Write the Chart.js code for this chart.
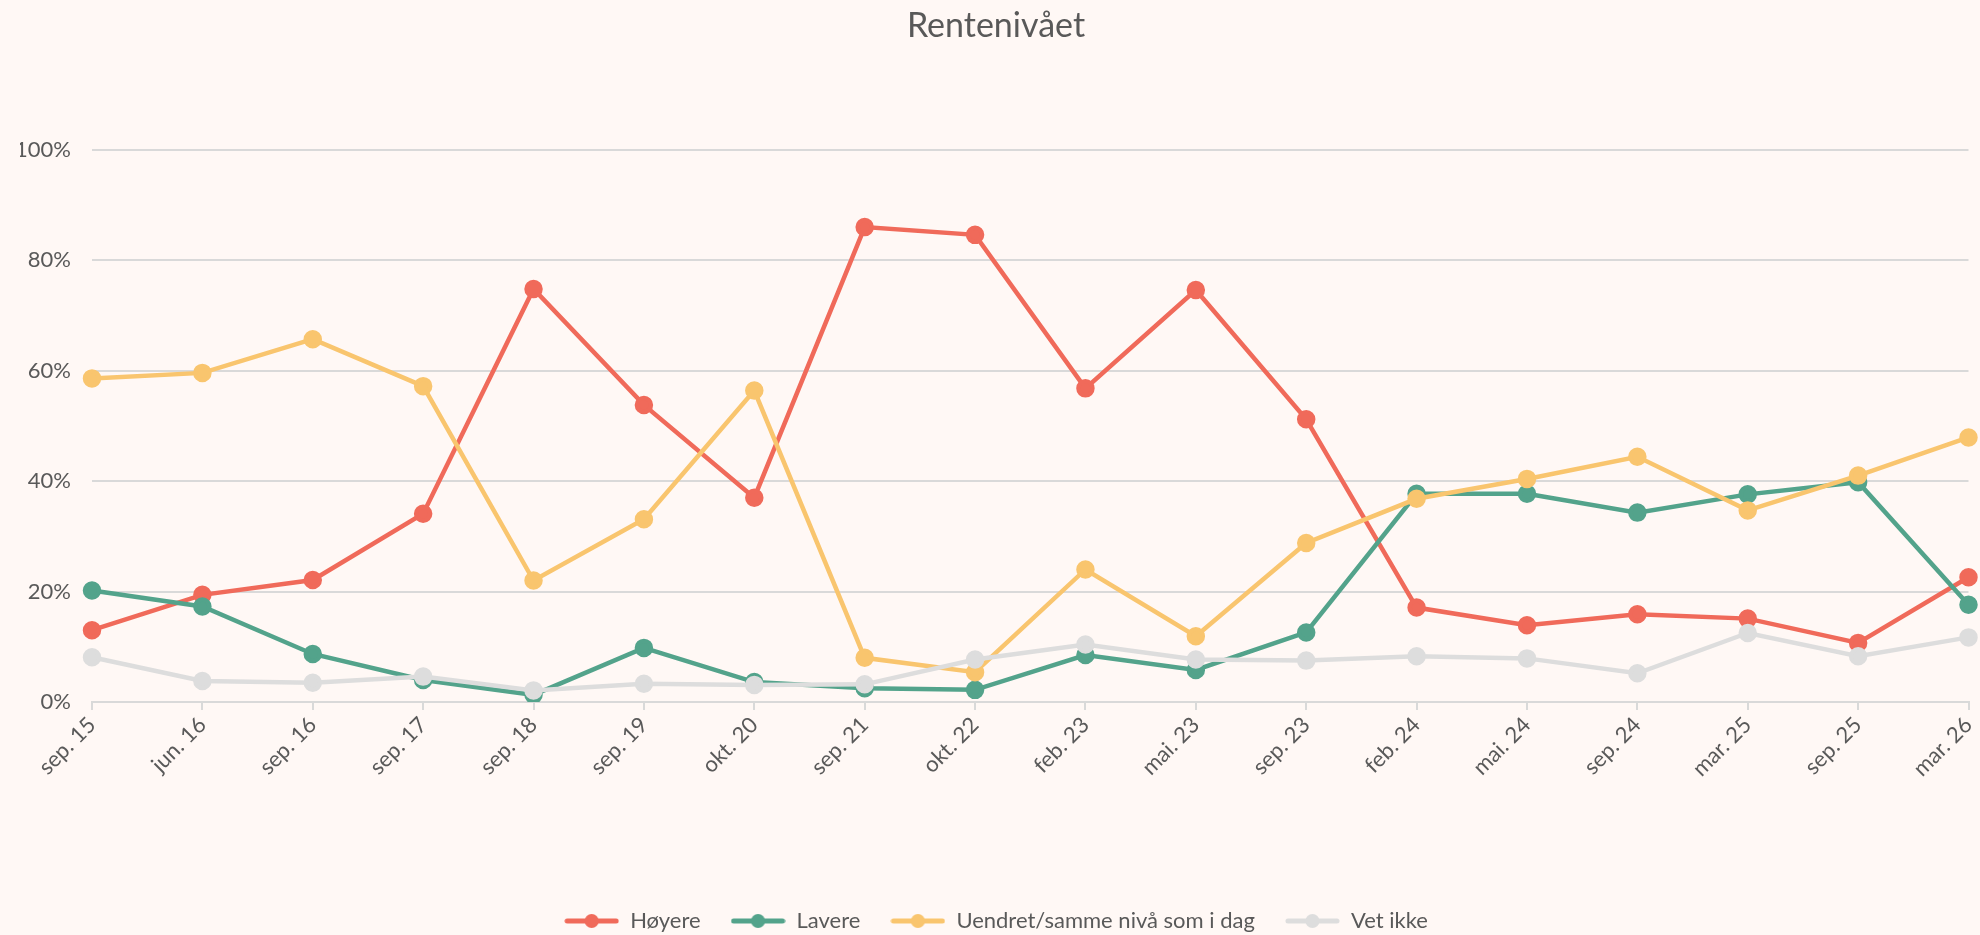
<!DOCTYPE html>
<html>
<head>
<meta charset="utf-8">
<script src="https://cdn.jsdelivr.net/npm/chart.js@4/dist/chart.umd.min.js"></script>
<style>
  html, body { margin: 0; padding: 0; background: #FFF8F5; }
  #wrap { width: 1980px; height: 935px; }
</style>
</head>
<body>
<div id="wrap"><canvas id="c" width="1980" height="935"></canvas></div>
<script>
const categories = ['sep. 15','jun. 16','sep. 16','sep. 17','sep. 18','sep. 19','okt. 20','sep. 21','okt. 22','feb. 23','mai. 23','sep. 23','feb. 24','mai. 24','sep. 24','mar. 25','sep. 25','mar. 26'];
const hoyere  = [13.0, 19.4, 22.1, 34.1, 74.8, 53.8, 37.0, 86.0, 84.6, 56.8, 74.6, 51.2, 17.1, 13.9, 15.9, 15.1, 10.7, 22.6];
const lavere  = [20.2, 17.3, 8.7, 4.0, 1.3, 9.8, 3.6, 2.5, 2.2, 8.5, 5.8, 12.6, 37.7, 37.7, 34.3, 37.6, 39.8, 17.6];
const uendret = [58.6, 59.6, 65.7, 57.2, 22.0, 33.1, 56.4, 8.0, 5.4, 24.0, 11.9, 28.8, 36.8, 40.4, 44.4, 34.7, 41.0, 47.9];
const vetIkke = [8.1, 3.8, 3.5, 4.6, 2.1, 3.3, 3.1, 3.2, 7.7, 10.4, 7.7, 7.5, 8.3, 7.9, 5.2, 12.5, 8.3, 11.7];
const yTicks = [0, 20, 40, 60, 80, 100];

const seriesNames = ['Høyere', 'Lavere', 'Uendret/samme nivå som i dag', 'Vet ikke'];
const seriesData = [hoyere, lavere, uendret, vetIkke];
const colors = ['#F06A5A', '#53A38B', '#F9C56E', '#DDDDDD'];

const FONT = 'Lato, "Open Sans", sans-serif';
const TXT = '#595959';
const GRID = '#D9D9D9';

function legendIcon(color) {
  const c = document.createElement('canvas');
  c.width = 55; c.height = 16;
  const g = c.getContext('2d');
  g.strokeStyle = color; g.lineWidth = 5; g.lineCap = 'round';
  g.beginPath(); g.moveTo(3, 8); g.lineTo(52, 8); g.stroke();
  g.fillStyle = color;
  g.beginPath(); g.arc(27.5, 8, 7, 0, Math.PI * 2); g.fill();
  return c;
}
const icons = colors.map(legendIcon);

const datasets = seriesNames.map((name, i) => ({
  label: name,
  data: seriesData[i],
  borderColor: colors[i],
  backgroundColor: colors[i],
  pointBackgroundColor: colors[i],
  pointBorderColor: colors[i],
  borderWidth: 4.5,
  pointRadius: 7,
  pointHoverRadius: 7,
  tension: 0,
  fill: false,
  order: 3 - i
}));

new Chart(document.getElementById('c'), {
  type: 'line',
  data: { labels: categories, datasets },
  options: {
    responsive: false,
    devicePixelRatio: 1,
    animation: false,
    layout: { padding: { left: 20, right: 8, top: 0, bottom: -7 } },
    plugins: {
      tooltip: { enabled: false },
      title: {
        display: true,
        text: 'Rentenivået',
        color: TXT,
        font: { family: FONT, size: 34, weight: 'normal' },
        padding: { top: 6, bottom: 103 }
      },
      legend: {
        position: 'bottom',
        labels: {
          usePointStyle: true,
          pointStyleWidth: 55,
          color: TXT,
          font: { family: FONT, size: 22 },
          padding: 30,
          generateLabels: (chart) => seriesNames.map((n, i) => ({
            text: n,
            fillStyle: colors[i],
            strokeStyle: colors[i],
            fontColor: TXT,
            lineWidth: 0,
            pointStyle: icons[i],
            hidden: false,
            datasetIndex: i
          }))
        }
      }
    },
    scales: {
      x: {
        offset: false,
        grid: { display: true, drawOnChartArea: false, drawTicks: true, tickLength: 8, color: GRID, lineWidth: 2 },
        border: { display: true, color: GRID, width: 2 },
        ticks: {
          color: TXT,
          font: { family: FONT, size: 22 },
          maxRotation: 45, minRotation: 45,
          autoSkip: false,
          padding: 2
        },
        afterFit: (s) => { s.paddingLeft = 0; s.paddingRight = 0; s.height = 178; }
      },
      y: {
        min: 0, max: 100,
        afterBuildTicks: (s) => { s.ticks = yTicks.map(v => ({ value: v })); },
        grid: { color: GRID, lineWidth: 2, drawTicks: false },
        border: { display: false },
        ticks: {
          color: TXT,
          font: { family: FONT, size: 22 },
          padding: 21,
          callback: (v) => v + '%'
        },
        afterFit: (s) => { s.width = 72; }
      }
    }
  }
});
</script>
</body>
</html>
